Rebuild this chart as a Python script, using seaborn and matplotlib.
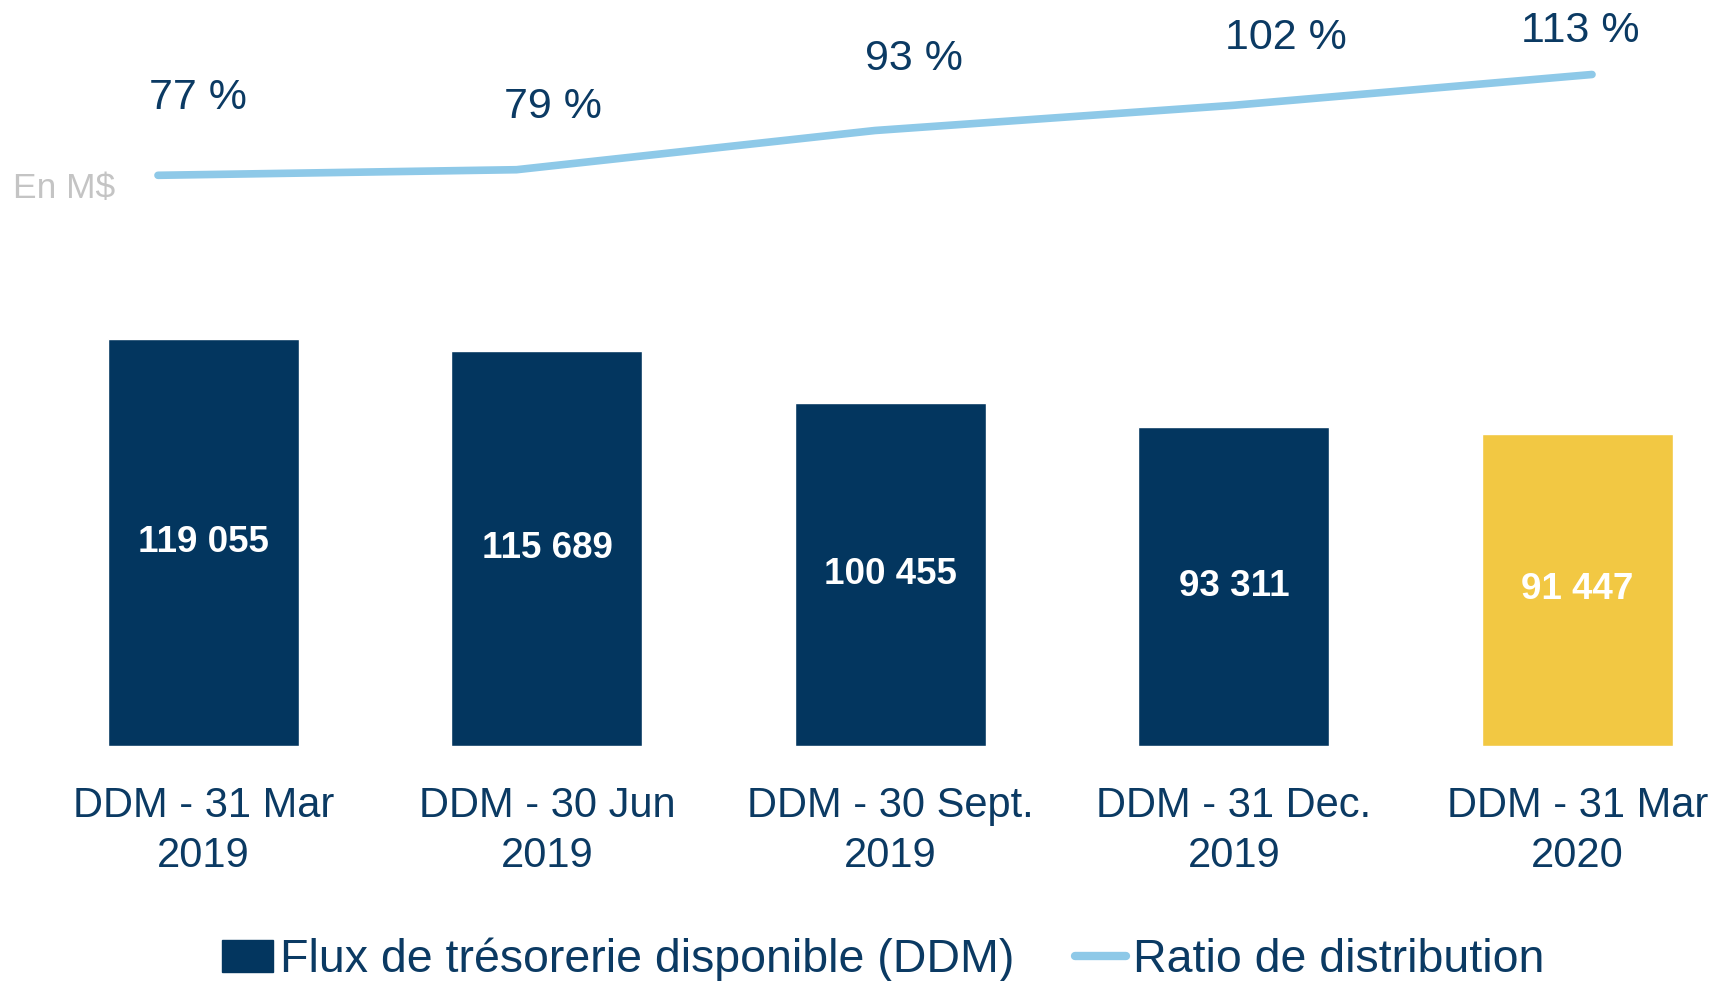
import matplotlib
matplotlib.use("Agg")
import matplotlib.pyplot as plt
import seaborn as sns
import pandas as pd
from matplotlib.patches import Patch
from matplotlib.lines import Line2D

# données
periods = ["DDM - 31 Mar\n2019", "DDM - 30 Jun\n2019", "DDM - 30 Sept.\n2019",
           "DDM - 31 Dec.\n2019", "DDM - 31 Mar\n2020"]
ddm = [119055, 115689, 100455, 93311, 91447]
ratio = [77, 79, 93, 102, 113]
ratio_labels = ["77 %", "79 %", "93 %", "102 %", "113 %"]

NAVY = "#03365F"
GOLD = "#F2C843"
LIGHT = "#8EC9E8"
TEXT = "#0B3A63"
bar_colors = [NAVY, NAVY, NAVY, NAVY, GOLD]

sns.set_theme(style="white")
plt.rcParams["font.family"] = ["Liberation Sans", "DejaVu Sans"]

fig = plt.figure(figsize=(17.13, 9.81), dpi=100)

# barres
ax = fig.add_axes([0, 235 / 981, 1, 746 / 981])
df = pd.DataFrame({"period": periods, "ddm": ddm})
sns.barplot(data=df, x="period", y="ddm", hue="period", palette=bar_colors,
            legend=False, width=0.556, saturation=1, ax=ax)
ax.set_xlim(-0.5924, 4.3945)
ax.set_ylim(0, 218400)
for cont in ax.containers:
    ax.bar_label(cont, labels=[f"{v:,.0f}".replace(",", " ") for v in cont.datavalues],
                 label_type="center", color="white", fontsize=26.5, fontweight="bold")
ax.set_xlabel("")
ax.set_ylabel("")
ax.set_yticks([])
ax.tick_params(axis="x", length=0, pad=29, labelsize=30, labelcolor=TEXT)
for t in ax.get_xticklabels():
    t.set_linespacing(1.3)
sns.despine(ax=ax, left=True, bottom=True)
ax.patch.set_alpha(0)

# ligne du ratio
ax2 = fig.add_axes([0, 0, 1, 1])
ax2.patch.set_alpha(0)
sns.lineplot(x=list(range(len(ratio))), y=ratio, color=LIGHT, linewidth=5.5,
             solid_capstyle="round", ax=ax2)
ax2.set_xlim(-0.4407, 4.3375)
ax2.set_ylim(-210.7, 139.6)
ax2.axis("off")
offsets = [(40, 77), (36, 63), (39, 72), (52, 67), (-12, 43)]
for i, (v, lab) in enumerate(zip(ratio, ratio_labels)):
    ax2.annotate(lab, (i, v), xytext=offsets[i], textcoords="offset pixels",
                 ha="center", va="center", fontsize=31, color=TEXT)

fig.text(13 / 1713, 1 - 189 / 981, "En M$", fontsize=25.5, color="#C4C4C4",
         ha="left", va="center")

handles = [Patch(facecolor=NAVY, edgecolor=NAVY),
           Line2D([0], [0], color=LIGHT, linewidth=6)]
fig.legend(handles, ["Flux de trésorerie disponible (DDM)", "Ratio de distribution"],
           loc="center", bbox_to_anchor=(883 / 1713, 21 / 981), ncol=2, frameon=False,
           fontsize=33.5, labelcolor=TEXT, handlelength=1.1, handletextpad=0.15,
           columnspacing=1.3, borderaxespad=0)

fig.savefig("out.png", dpi=100)
